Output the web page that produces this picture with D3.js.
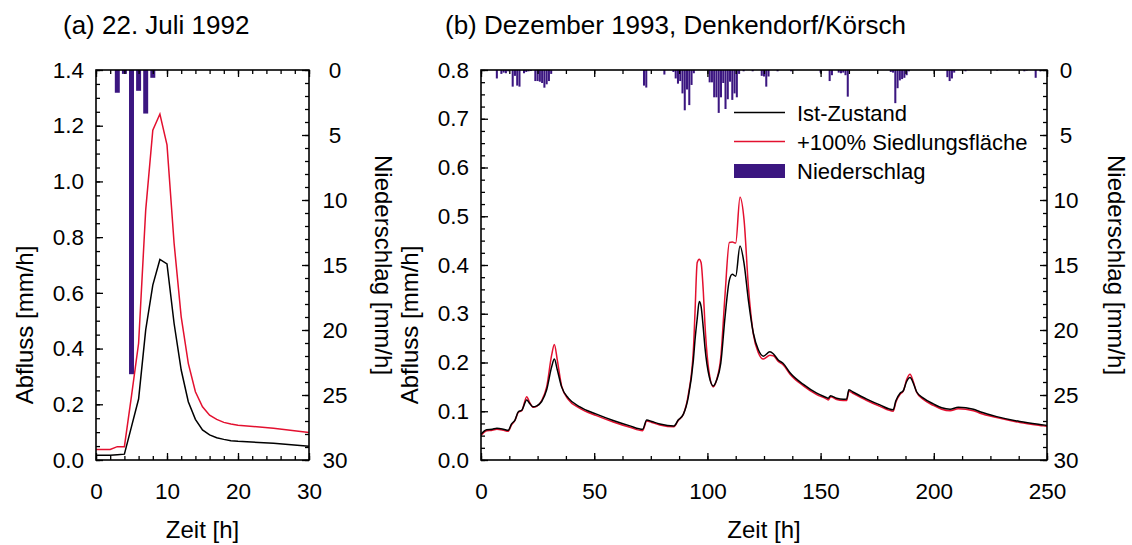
<!DOCTYPE html>
<html><head><meta charset="utf-8">
<script src="https://cdn.jsdelivr.net/npm/d3@7"></script>
<style>
body{margin:0;background:#fff}
text{font-family:"Liberation Sans",Arial,sans-serif;fill:#000}
</style>
</head><body>
<svg id="fig" width="1132" height="545"></svg>
<script>
// ---- (a) 22. Juli 1992 ----
const leftT    =[0,2,3,4,5,6,7,8,9,10,11,12,13,14,15,16,17,18,19,20,25,30];
const leftIst  =[0.017,0.017,0.019,0.021,0.12,0.219,0.467,0.628,0.720,0.704,0.49,0.323,0.209,0.146,0.108,0.09,0.080,0.074,0.069,0.067,0.060,0.049];
const leftPlus =[0.038,0.038,0.048,0.048,0.23,0.419,0.897,1.184,1.242,1.131,0.778,0.514,0.347,0.245,0.191,0.161,0.146,0.135,0.129,0.125,0.114,0.099];
const leftRainT=[3,4,5,6,7,8];
const leftRainV=[1.75,0.3,23.4,1.6,3.35,0.6];

// ---- (b) Dezember 1993 ----
const rightT=[0,2.5,5,7,10,12,13.5,15,16.5,18,20.2,21.3,23.1,24.6,26.8,29,31.2,32.4,33.7,35.6,
 38.6,43.7,51,58.4,65.8,71.4,73.2,75.4,79,85.2,87.1,89.4,91.6,93.8,94.5,95.5,96.4,97.2,98.2,98.9,
 100.8,102.6,104.1,105.9,107.8,109.7,111,112.5,114.4,116.2,118.1,120.3,122.5,124.7,127.6,129.1,131.3,133.5,136.5,142.4,
 148.3,152.7,153.4,154.4,157.1,160,161.5,162.5,164.5,170.4,176.2,182.1,183.2,185.1,186.5,188,189.5,191,192.4,195.4,
 199.8,203.5,207.2,210.8,217.5,220.4,227.8,238,248.4,250];
const rightIst=[.053,.062,.063,.065,.063,.061,.074,.082,.099,.102,.123,.117,.109,.111,.120,.144,.191,.207,.185,.150,
 .127,.109,.094,.081,.070,.063,.082,.079,.074,.070,.082,.094,.130,.205,.245,.290,.325,.315,.270,.232,
 .171,.152,.164,.198,.294,.369,.381,.377,.439,.403,.328,.260,.226,.213,.222,.218,.205,.198,.179,.155,
 .137,.128,.1265,.132,.1265,.1245,.125,.144,.139,.125,.113,.103,.121,.137,.142,.161,.169,.157,.140,.127,
 .115,.107,.104,.108,.104,.099,.089,.079,.072,.071];
const rightPlus=[.050,.060,.061,.063,.061,.059,.072,.081,.098,.101,.130,.120,.108,.110,.122,.150,.215,.237,.205,.152,
 .124,.106,.091,.078,.067,.060,.080,.077,.072,.068,.081,.094,.135,.225,.300,.405,.412,.405,.345,.280,
 .178,.150,.165,.210,.340,.446,.447,.445,.539,.492,.356,.258,.220,.207,.215,.214,.202,.195,.176,.152,
 .134,.125,.123,.130,.124,.122,.122,.141,.136,.122,.110,.100,.118,.135,.141,.165,.176,.160,.139,.124,
 .112,.104,.101,.105,.101,.096,.087,.077,.070,.069];
const rightRainT=[7,9,10,11,12,14,15,16,17,19,20,21,22,24,25,26,27,28,29,30,31,
 72,73,81,85,86,87,88,89,90,91,92,93,94,101,102,103,104,105,106,107,108,109,110,111,112,113,114,116,120,
 124,125,126,127,131,137,150,154,155,158,159,160,161,162,181,182,183,184,185,186,187,188,189,
 206,207,208,209,214,228,240,241,245,247];
const rightRainV=[0.65,0.3,0.2,0.25,0.1,1.28,0.45,1.2,1.28,0.25,0.15,0.1,0.08,0.85,0.85,0.9,1.0,1.36,1.1,0.85,0.3,
 1.2,1.35,0.35,0.15,0.65,1.05,0.85,1.8,3.1,1.5,2.7,1.15,0.25,0.95,0.95,2.1,2.1,3.3,2.1,1.0,3.0,2.25,0.9,2.3,1.8,2.1,0.3,0.1,0.1,
 0.45,0.5,1.28,0.5,0.1,0.1,0.2,0.85,0.4,0.2,0.25,0.2,0.4,2.05,0.15,0.2,2.55,1.4,0.8,0.7,0.6,0.4,0.1,
 0.55,0.85,0.65,0.2,0.1,0.05,0.1,0.05,0.6,0.1];

const legendLabels=["Ist-Zustand","+100% Siedlungsfläche","Niederschlag"];

const PURPLE="#3b1680", RED="#e3102f";
const TOP=70, BOT=460;
const svg=d3.select("#fig");

function panel(o){
 const g=svg.append("g");
 const x=d3.scaleLinear().domain(o.xDom).range([o.x0,o.x1]);
 const y=d3.scaleLinear().domain(o.qDom).range([BOT,TOP]);
 const yp=d3.scaleLinear().domain([0,30]).range([TOP,BOT]);

 // precipitation hanging from top
 g.selectAll("rect.rain").data(o.rainT.map((t,i)=>({t,v:o.rainV[i]}))).enter().append("rect")
  .attr("x",d=>x(d.t-o.bw)).attr("width",d=>x(d.t+o.bw)-x(d.t-o.bw))
  .attr("y",TOP).attr("height",d=>yp(d.v)-TOP).attr("fill",PURPLE);

 const line=d3.line().x(d=>x(d[0])).y(d=>y(d[1])).curve(o.curve);
 g.append("path").datum(o.t.map((t,i)=>[t,o.plus[i]])).attr("d",line)
  .attr("fill","none").attr("stroke",RED).attr("stroke-width",1.5);
 g.append("path").datum(o.t.map((t,i)=>[t,o.ist[i]])).attr("d",line)
  .attr("fill","none").attr("stroke","#000").attr("stroke-width",1.5);

 const tick=(sel)=>{sel.select(".domain").remove();sel.selectAll("line").attr("stroke","#000").attr("stroke-width",1.3);
  sel.selectAll("text").attr("font-size",22.5).attr("font-family","Liberation Sans, Arial, sans-serif");};

 // x axis bottom and top
 g.append("g").attr("transform",`translate(0,${BOT})`)
  .call(d3.axisBottom(x).tickValues(d3.range(o.xDom[0],o.xDom[1]+1e-9,o.xMinor)).tickSize(-4).tickFormat("")).call(tick);
 g.append("g").attr("transform",`translate(0,${BOT})`)
  .call(d3.axisBottom(x).tickValues(d3.range(o.xDom[0],o.xDom[1]+1e-9,o.xMajor)).tickSize(-7).tickPadding(23)).call(tick);
 g.append("g").attr("transform",`translate(0,${TOP})`)
  .call(d3.axisTop(x).tickValues(d3.range(o.xDom[0],o.xDom[1]+1e-9,o.xMinor)).tickSize(-4).tickFormat("")).call(tick);
 g.append("g").attr("transform",`translate(0,${TOP})`)
  .call(d3.axisTop(x).tickValues(d3.range(o.xDom[0],o.xDom[1]+1e-9,o.xMajor)).tickSize(-7).tickFormat("")).call(tick);

 // left discharge axis
 g.append("g").attr("transform",`translate(${o.x0},0)`)
  .call(d3.axisLeft(y).tickValues(d3.range(0,o.qDom[1]+1e-9,o.qMinor)).tickSize(-4).tickFormat("")).call(tick);
 g.append("g").attr("transform",`translate(${o.x0},0)`)
  .call(d3.axisLeft(y).tickValues(d3.range(0,o.qDom[1]+1e-9,o.qMajor)).tickSize(-7).tickPadding(12).tickFormat(d3.format(".1f"))).call(tick);

 // right precipitation axis
 g.append("g").attr("transform",`translate(${o.x1},0)`)
  .call(d3.axisRight(yp).tickValues(d3.range(0,31,1)).tickSize(-4).tickFormat("")).call(tick);
 g.append("g").attr("transform",`translate(${o.x1},0)`)
  .call(d3.axisRight(yp).tickValues(d3.range(0,31,5)).tickSize(-7)).call(tick)
  .selectAll("text").attr("text-anchor","middle").attr("x",o.rLab);

 g.append("rect").attr("x",o.x0).attr("y",TOP).attr("width",o.x1-o.x0).attr("height",BOT-TOP)
  .attr("fill","none").attr("stroke","#000").attr("stroke-width",1.6);

 g.append("text").attr("x",(o.x0+o.x1)/2).attr("y",538).attr("text-anchor","middle").attr("font-size",24).text("Zeit [h]");
 g.append("text").attr("transform",`translate(${o.qLabX},325) rotate(-90)`).attr("text-anchor","middle")
  .attr("font-size",24).text("Abfluss [mm/h]");
 g.append("text").attr("transform",`translate(${o.pLabX},265) rotate(90)`).attr("text-anchor","middle")
  .attr("font-size",24).text("Niederschlag [mm/h]");
 g.append("text").attr("x",o.titleX).attr("y",34).attr("font-size",26).text(o.title);
 return {x,y};
}

panel({title:"(a) 22. Juli 1992",titleX:63,x0:96,x1:309,xDom:[0,30],xMinor:2,xMajor:10,
 qDom:[0,1.4],qMinor:0.05,qMajor:0.2,t:leftT,ist:leftIst,plus:leftPlus,curve:d3.curveLinear,
 rainT:leftRainT,rainV:leftRainV,bw:0.35,rLab:26,qLabX:33,pLabX:375});

panel({title:"(b) Dezember 1993, Denkendorf/Körsch",titleX:445,x0:481,x1:1047,xDom:[0,250],xMinor:12.5,xMajor:50,
 qDom:[0,0.8],qMinor:0.025,qMajor:0.1,t:rightT,ist:rightIst,plus:rightPlus,curve:d3.curveMonotoneX,
 rainT:rightRainT,rainV:rightRainV,bw:0.45,rLab:19,qLabX:418,pLabX:1108});

// legend
const leg=svg.append("g");
const rows=[{y:112.5,type:"line",c:"#000"},{y:141.5,type:"line",c:RED},{y:171,type:"rect",c:PURPLE}];
rows.forEach((r,i)=>{
 if(r.type==="line") leg.append("line").attr("x1",734).attr("x2",785).attr("y1",r.y).attr("y2",r.y)
   .attr("stroke",r.c).attr("stroke-width",1.5);
 else leg.append("rect").attr("x",734).attr("y",r.y-7).attr("width",51).attr("height",14).attr("fill",r.c);
 leg.append("text").attr("x",797).attr("y",r.y+8).attr("font-size",22).text(legendLabels[i]);
});
</script>
</body></html>
